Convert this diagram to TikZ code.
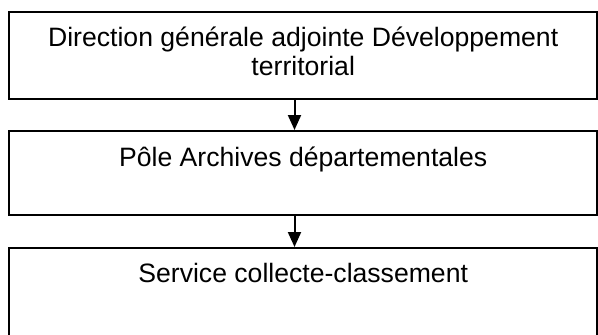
\documentclass[tikz,border=0pt]{standalone}
\usepackage{fontspec}
\setmainfont{Liberation Sans}
\usetikzlibrary{positioning, arrows.meta}

\begin{document}
\begin{tikzpicture}[
    x=1pt, y=1pt,
    box/.style={rectangle, draw, line width=1pt, minimum width=293.75pt, inner sep=0pt},
    boxtext/.style={inner sep=0pt, align=center, font=\fontsize{13.3}{14.5}\selectfont},
    link/.style={line width=1pt, -{Triangle[width=6.5pt, length=7.5pt]}}
]
\useasboundingbox (0,0) rectangle (299,167);

% Boxes
\node[box, minimum height=43.5pt, anchor=north] (dga) at (151.6,161.5) {};
\node[box, minimum height=42pt, anchor=north] (pole) at (151.6,102) {};
\node[box, minimum height=46.5pt, anchor=north] (service) at (151.6,43.5) {};

% Texts (base = last line)
\node[boxtext, anchor=base] (dgaText) at (151.6,129.2) {Direction générale adjointe Développement\\territorial};
\node[boxtext, anchor=base] (poleText) at (151.6,84) {Pôle Archives départementales};
\node[boxtext, anchor=base] (serviceText) at (151.6,26) {Service collecte-classement};

% Links
\draw[link] (dga.south -| 147.25,0) -- (pole.north -| 147.25,0);
\draw[link] (pole.south -| 147.25,0) -- (service.north -| 147.25,0);

\end{tikzpicture}
\end{document}
